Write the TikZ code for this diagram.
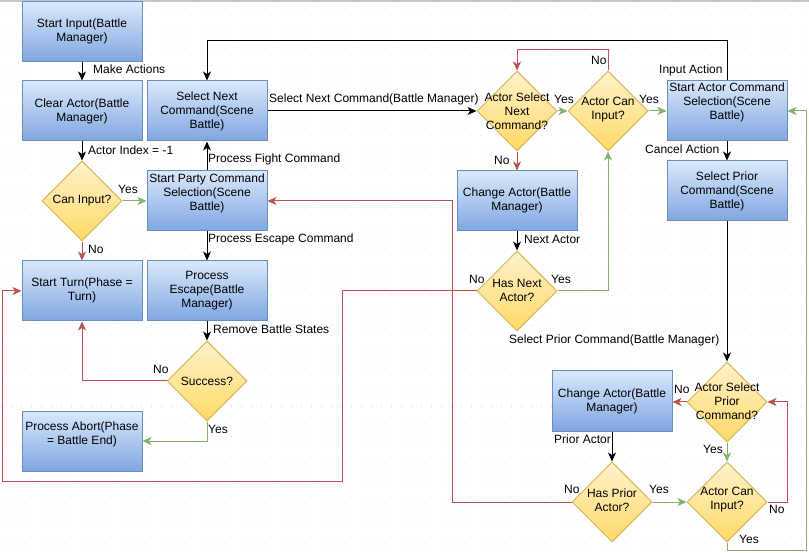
\documentclass[tikz,border=0pt]{standalone}
\usepackage{fontspec}
\setmainfont{Liberation Sans}
\usetikzlibrary{shapes.geometric,arrows.meta}
\definecolor{boxt}{HTML}{DAE8FC}
\definecolor{boxbot}{HTML}{7EA6E0}
\definecolor{boxb}{HTML}{6C8EBF}
\definecolor{diat}{HTML}{FFF2CC}
\definecolor{diabot}{HTML}{FFD966}
\definecolor{diab}{HTML}{D6B656}
\definecolor{redc}{HTML}{B85450}
\definecolor{grnc}{HTML}{82B366}
\definecolor{gridc}{HTML}{E4E4E4}
\begin{document}
\begin{tikzpicture}[x=1pt,y=-1pt,
  every node/.style={font=\fontsize{12}{14}\selectfont},
  box/.style={draw=boxb,line width=1pt,top color=boxt,bottom color=boxbot,minimum width=120pt,minimum height=60pt,inner sep=0pt},
  dia/.style={diamond,draw=diab,line width=1pt,top color=diat,bottom color=diabot,minimum width=80pt,minimum height=80pt,inner sep=0pt},
  txt/.style={align=center,inner sep=0pt},
  lbl/.style={anchor=west,inner sep=0pt},
  con/.style={line width=1pt,-{Stealth[length=9pt,width=8pt,inset=2.5pt]}},
  blk/.style={con,draw=black},
  redl/.style={con,draw=redc},
  grnl/.style={con,draw=grnc}]
\useasboundingbox (0,0) rectangle (809,553);
\fill[white] (0,0) rectangle (809,553);
\foreach \yy in {6,16,...,546} \draw[gridc,line width=1pt,dash pattern=on 1pt off 9pt] (1,\yy) -- (809,\yy);
\draw[gray!45,line width=2pt] (0,1) -- (809,1);
% boxes
\node[box] (si) at (82,32) {};
\node[txt] (sit) at (82,31) {Start Input(Battle\\Manager)};
\node[box] (ca) at (82,111) {};
\node[txt] (cat0) at (82,111) {Clear Actor(Battle\\Manager)};
\node[box] (snc) at (207,111) {};
\node[txt] (snct) at (207,111) {Select Next\\Command(Scene\\Battle)};
\node[dia] (cin) at (82,201) {};
\node[txt] (cint) at (82,201) {Can Input?};
\node[box] (spc) at (207,201) {};
\node[txt] (spct) at (207,193) {Start Party Command\\Selection(Scene\\Battle)};
\node[box] (st) at (82,291) {};
\node[txt] (stt) at (82,290) {Start Turn(Phase =\\Turn)};
\node[box] (pe) at (207,291) {};
\node[txt] (pet) at (207,291) {Process\\Escape(Battle\\Manager)};
\node[dia] (suc) at (207,381) {};
\node[txt] (suct) at (207,381) {Success?};
\node[box] (pa) at (82,441) {};
\node[txt] (pat) at (82,434) {Process Abort(Phase\\= Battle End)};
\node[dia] (asn) at (517,111) {};
\node[txt] (asnt) at (517,111) {Actor Select\\Next\\Command?};
\node[dia] (aci) at (608,111) {};
\node[txt] (acit) at (608,110) {Actor Can\\Input?};
\node[box] (sac) at (727,111) {};
\node[txt] (sact) at (727,102) {Start Actor Command\\Selection(Scene\\Battle)};
\node[box] (spr) at (727,191) {};
\node[txt] (sprt) at (727,191) {Select Prior\\Command(Scene\\Battle)};
\node[box] (cat) at (517,201) {};
\node[txt] (catt) at (517,200) {Change Actor(Battle\\Manager)};
\node[dia] (hna) at (517,291) {};
\node[txt] (hnat) at (517,290) {Has Next\\Actor?};
\node[dia] (asp) at (727,402) {};
\node[txt] (aspt) at (727,401) {Actor Select\\Prior\\Command?};
\node[box] (cab) at (612,401) {};
\node[txt] (cabt) at (612,401) {Change Actor(Battle\\Manager)};
\node[dia] (hpa) at (612,502) {};
\node[txt] (hpat) at (612,500) {Has Prior\\Actor?};
\node[dia] (acb) at (727,502) {};
\node[txt] (acbt) at (727,500) {Actor Can\\Input?};
% connectors
\draw[blk] (si) -- (ca);
\draw[blk] (ca) -- (cin);
\draw[grnl] (cin) -- (spc);
\draw[redl] (cin) -- (st);
\draw[blk] (spc) -- (snc);
\draw[blk] (spc) -- (pe);
\draw[blk] (pe) -- (suc);
\draw[redl] (suc.west) -| (st.south);
\draw[grnl] (suc.south) |- (pa.east);
\draw[blk] (snc) -- (asn);
\draw[grnl] (asn) -- (aci);
\draw[grnl] (aci) -- (sac);
\draw[redl] (aci.north) -- ++(0,-21) -| (asn.north);
\draw[redl] (asn) -- (cat);
\draw[blk] (cat) -- (hna);
\draw[grnl] (hna.east) -| (aci.south);
\draw[redl] (hna.west) -- (342,291) -- (342,481) -- (2,481) |- (st.west);
\draw[redl] (hpa.west) -| (452,201) -- (spc.east);
\draw[blk] (sac.north) |- (207,41) -- (snc.north);
\draw[blk] (sac) -- (spr);
\draw[blk] (spr) -- (asp);
\draw[redl] (asp.west) -- (asp.west -| cab.east);
\draw[blk] (cab) -- (hpa);
\draw[grnl] (hpa) -- (acb);
\draw[grnl] (asp) -- (acb);
\draw[redl] (acb.east) -- (787,502) |- (asp.east);
\draw[grnl] (acb.south) -- ++(0,8) -| (806,111) -- (sac.east);
% labels
\node[lbl] (l1) at (93,69) {Make Actions};
\node[lbl] (l2) at (88,150) {Actor Index = -1};
\node[lbl] (l3) at (118,189) {Yes};
\node[lbl] (l4) at (88,249) {No};
\node[lbl] (l5) at (208,159) {Process Fight Command};
\node[lbl] (l6) at (208,239) {Process Escape Command};
\node[lbl] (l7) at (269,99) {Select Next Command(Battle Manager)};
\node[lbl] (l8) at (213,329) {Remove Battle States};
\node[lbl] (l9) at (153,369) {No};
\node[lbl] (l10) at (208,429) {Yes};
\node[lbl] (l11) at (554,99) {Yes};
\node[lbl] (l12) at (639,99) {Yes};
\node[lbl] (l13) at (591,60) {No};
\node[lbl] (l14) at (659,70) {Input Action};
\node[lbl] (l15) at (645,149) {Cancel Action};
\node[lbl] (l16) at (494,160) {No};
\node[lbl] (l17) at (524,239) {Next Actor};
\node[lbl] (l18) at (469,279) {No};
\node[lbl] (l19) at (551,279) {Yes};
\node[lbl] (l20) at (509,340) {Select Prior Command(Battle Manager)};
\node[lbl] (l21) at (674,389) {No};
\node[lbl] (l22) at (554,439) {Prior Actor};
\node[lbl] (l23) at (703,449) {Yes};
\node[lbl] (l24) at (564,489) {No};
\node[lbl] (l25) at (649,489) {Yes};
\node[lbl] (l26) at (769,509) {No};
\node[lbl] (l27) at (739,539) {Yes};
\end{tikzpicture}
\end{document}
